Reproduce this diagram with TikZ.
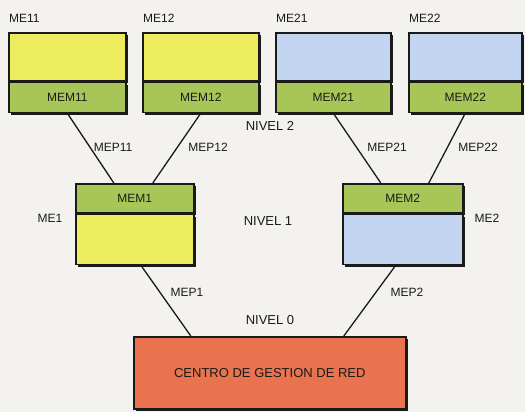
\documentclass[tikz,border=0pt]{standalone}
\usepackage{fontspec}
\setmainfont{Liberation Sans}
\usetikzlibrary{positioning,shadows}
\definecolor{ink}{HTML}{1A1A1A}
\definecolor{paper}{HTML}{F3F2EE}
\definecolor{yel}{HTML}{EDEB5E}
\definecolor{blu}{HTML}{C3D5F0}
\definecolor{grn}{HTML}{A8C657}
\definecolor{red}{HTML}{E8734E}

\begin{document}
\begin{tikzpicture}[
  x=1pt,y=-1pt,
  text=ink,
  font=\fontsize{12}{14}\selectfont,
  boxshadow/.style={general shadow={fill=ink,shadow xshift=2.5pt,shadow yshift=-2.5pt}},
  part/.style={draw=ink,line width=1.6pt,boxshadow,inner sep=0pt},
  upper/.style={part,minimum height=48pt},
  lower/.style={part,fill=grn,minimum height=30pt},
  lbl/.style={inner sep=1pt},
  link/.style={draw=ink,line width=1.3pt}
]
  \fill[paper] (0,0) rectangle (525,412);
  \useasboundingbox (0,0) rectangle (525,412);

  \foreach \x/\w/\n/\c in {8/117/11/yel,142/116/12/yel,275/115/21/blu,408/113/22/blu}{
    \node[upper,fill=\c,minimum width=\w pt,anchor=north west] (me\n) at (\x,32) {};
    \node[lower,minimum width=\w pt,below=0pt of me\n] (mem\n) {MEM\n};
    \node[lbl,anchor=south west] (lme\n) at ([yshift=8pt]me\n.north west) {ME\n};
  }

  \node[lower,minimum width=118pt,minimum height=29pt,anchor=north west] (mem1) at (75,183) {MEM1};
  \node[upper,fill=yel,minimum width=118pt,minimum height=50pt,below=0pt of mem1] (me1) {};
  \node[lower,minimum width=120pt,minimum height=29pt,anchor=north west] (mem2) at (342,183) {MEM2};
  \node[upper,fill=blu,minimum width=120pt,minimum height=50pt,below=0pt of mem2] (me2) {};

  \node[part,fill=red,minimum width=272pt,minimum height=72pt,anchor=north west,
    font=\fontsize{13}{15}\selectfont] (root) at (133,336) {CENTRO DE GESTION DE RED};

  \draw[link] (mem11.south) -- ([xshift=-21pt]mem1.north);
  \draw[link] (mem12.south) -- ([xshift=18pt]mem1.north);
  \draw[link] (mem21.south) -- ([xshift=-22pt]mem2.north);
  \draw[link] (mem22.south) -- ([xshift=26pt]mem2.north);
  \draw[link] ([xshift=6pt]me1.south) -- ([xshift=-79pt]root.north);
  \draw[link] ([xshift=-7pt]me2.south) -- ([xshift=74pt]root.north);

  \node[lbl] (lmep11) at (113,147) {MEP11};
  \node[lbl] (lmep12) at (208,147) {MEP12};
  \node[lbl] (lmep21) at (387,147) {MEP21};
  \node[lbl] (lmep22) at (478,147) {MEP22};
  \node[lbl] (lmep1) at (187,292) {MEP1};
  \node[lbl] (lmep2) at (407,292) {MEP2};
  \node[lbl] (lme1) at (50,218) {ME1};
  \node[lbl] (lme2) at (487,218) {ME2};

  \node[lbl,font=\fontsize{13}{15}\selectfont] (niv2) at (270,126) {NIVEL 2};
  \node[lbl,font=\fontsize{13}{15}\selectfont] (niv1) at (268,221) {NIVEL 1};
  \node[lbl,font=\fontsize{13}{15}\selectfont] (niv0) at (270,320) {NIVEL 0};
\end{tikzpicture}
\end{document}
